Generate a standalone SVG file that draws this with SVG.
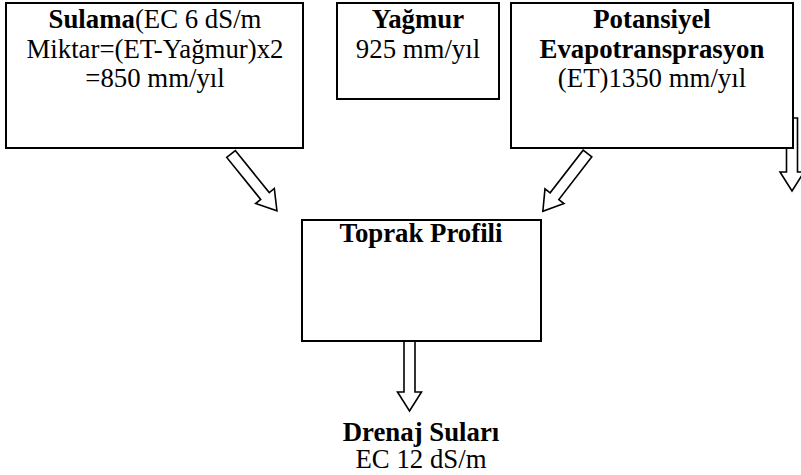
<svg xmlns="http://www.w3.org/2000/svg" width="801" height="475" viewBox="0 0 801 475">
<style>
.box{fill:#fff;stroke:#000;stroke-width:2}
.arr{fill:#fff;stroke:#000;stroke-width:1.6;stroke-linejoin:miter}
text{font-family:"Liberation Serif","Times New Roman",serif;font-size:26.8px;fill:#000;text-anchor:middle}
.b{font-weight:bold}
</style>
<defs>
<polygon id="blk" points="0,-5.5 54,-5.5 54,-12 73,0 54,12 54,5.5 0,5.5"/>
</defs>
<rect width="801" height="475" fill="#fff"/>
<g id="connectors">
<use href="#blk" class="arr" transform="translate(231,154) rotate(51)"/>
<use href="#blk" class="arr" transform="translate(587.5,153.5) rotate(127.7)"/>
<use href="#blk" class="arr" transform="translate(409.5,338) rotate(90)"/>
<use href="#blk" class="arr" transform="translate(792,118) rotate(90)"/>
</g>
<g id="sulama">
<rect class="box" x="6" y="3" width="297" height="145"/>
<text x="155" y="28"><tspan class="b">Sulama</tspan>(EC 6 dS/m</text>
<text x="155" y="58">Miktar=(ET-Yağmur)x2</text>
<text x="155" y="87">=850 mm/yıl</text>
</g>
<g id="yagmur">
<rect class="box" x="337" y="3" width="162" height="96"/>
<text class="b" x="418" y="28">Yağmur</text>
<text x="418" y="58">925 mm/yıl</text>
</g>
<g id="et">
<rect class="box" x="511" y="3" width="282" height="145"/>
<text class="b" x="652" y="28">Potansiyel</text>
<text class="b" x="652" y="58">Evapotransprasyon</text>
<text x="652" y="87">(ET)1350 mm/yıl</text>
</g>
<g id="toprak">
<rect class="box" x="302" y="220" width="239" height="121"/>
<text class="b" x="421" y="242">Toprak Profili</text>
</g>
<g id="drenaj">
<text class="b" x="421" y="441">Drenaj Suları</text>
<text x="421" y="468">EC 12 dS/m</text>
</g>
</svg>
